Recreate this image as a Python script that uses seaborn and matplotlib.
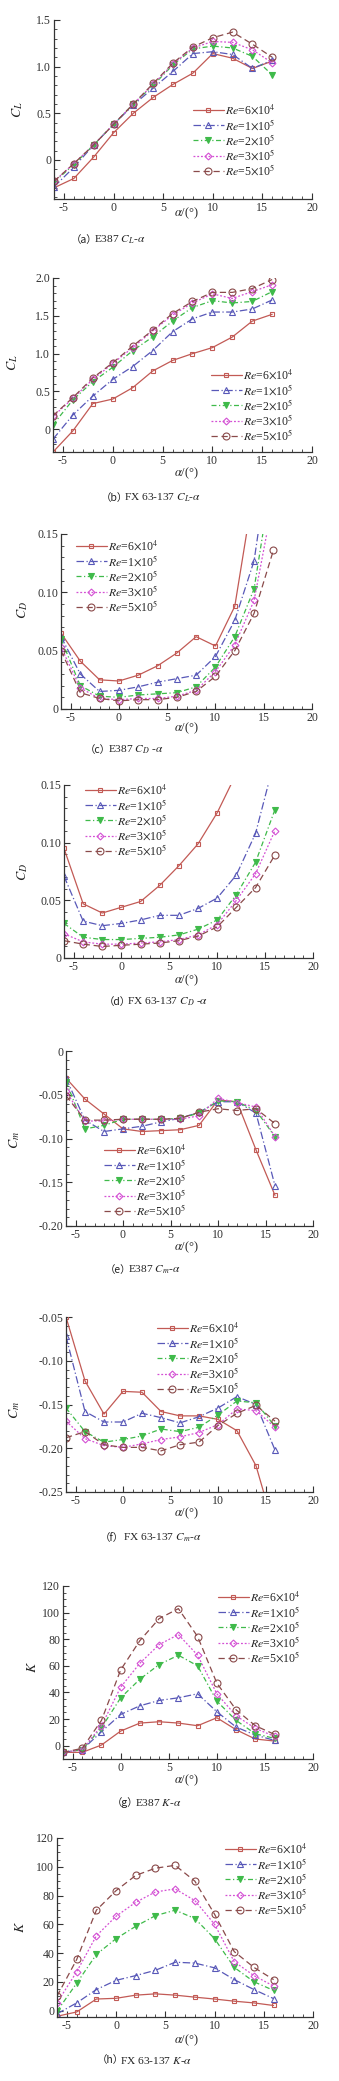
import pandas as pd
import seaborn as sns
import matplotlib.pyplot as plt
from matplotlib.ticker import MultipleLocator, AutoMinorLocator, FuncFormatter

sns.set_style('ticks')
plt.rcParams['font.family'] = ['Liberation Serif', 'Noto Sans CJK SC']
plt.rcParams['mathtext.fontset'] = 'stix'
plt.rcParams['axes.unicode_minus'] = False

W, H = 339, 2081

alpha = [-6, -4, -2, 0, 2, 4, 6, 8, 10, 12, 14, 16]
re_labels = [r'$Re$=6$\times$10$^4$', r'$Re$=1$\times$10$^5$', r'$Re$=2$\times$10$^5$',
             r'$Re$=3$\times$10$^5$', r'$Re$=5$\times$10$^5$']
colors = ['#c25a55', '#5858b8', '#3fba4a', '#d44fd4', '#8a4a4a']
linestyles = ['-', (0, (6, 2, 1, 2)), (0, (4, 2, 1, 2)), (0, (1.5, 1.5)), (0, (5, 3))]
markers = ['s', '^', 'v', 'D', 'o']
marker_sizes = [3.5, 4, 4, 3.5, 5]
filled = [False, False, True, False, False]

# values, one list per Re (6e4, 1e5, 2e5, 3e5, 5e5)
cl_e387 = [
    [-0.30, -0.20, 0.03, 0.29, 0.50, 0.67, 0.81, 0.93, 1.14, 1.09, 0.98, 1.06],
    [-0.29, -0.08, 0.16, 0.38, 0.59, 0.77, 0.95, 1.14, 1.16, 1.13, 0.98, 1.07],
    [-0.24, -0.05, 0.16, 0.38, 0.60, 0.80, 1.02, 1.19, 1.22, 1.20, 1.11, 0.91],
    [-0.23, -0.04, 0.16, 0.38, 0.60, 0.81, 1.03, 1.20, 1.27, 1.26, 1.18, 1.04],
    [-0.23, -0.04, 0.16, 0.38, 0.60, 0.82, 1.04, 1.21, 1.31, 1.37, 1.24, 1.10],
]
cl_fx = [
    [-0.30, -0.02, 0.34, 0.40, 0.55, 0.77, 0.91, 1.00, 1.08, 1.22, 1.43, 1.52],
    [-0.13, 0.19, 0.44, 0.66, 0.83, 1.04, 1.29, 1.46, 1.55, 1.55, 1.59, 1.71],
    [0.06, 0.39, 0.63, 0.82, 1.04, 1.22, 1.43, 1.61, 1.70, 1.67, 1.69, 1.82],
    [0.17, 0.41, 0.66, 0.87, 1.08, 1.30, 1.51, 1.67, 1.79, 1.73, 1.82, 1.91],
    [0.18, 0.42, 0.68, 0.88, 1.10, 1.31, 1.53, 1.69, 1.81, 1.81, 1.86, 1.98],
]
cd_e387 = [
    [0.065, 0.041, 0.025, 0.024, 0.029, 0.037, 0.048, 0.062, 0.054, 0.088, 0.190, 0.300],
    [0.062, 0.030, 0.015, 0.016, 0.019, 0.023, 0.026, 0.029, 0.045, 0.076, 0.127, 0.240],
    [0.060, 0.020, 0.011, 0.010, 0.012, 0.013, 0.014, 0.019, 0.036, 0.062, 0.103, 0.207],
    [0.053, 0.018, 0.009, 0.008, 0.009, 0.009, 0.011, 0.016, 0.032, 0.055, 0.093, 0.180],
    [0.050, 0.014, 0.009, 0.007, 0.008, 0.008, 0.010, 0.015, 0.028, 0.050, 0.082, 0.136],
]
cd_fx = [
    [0.095, 0.047, 0.039, 0.044, 0.049, 0.063, 0.080, 0.099, 0.126, 0.160, 0.220, 0.300],
    [0.071, 0.032, 0.028, 0.030, 0.033, 0.037, 0.037, 0.043, 0.052, 0.072, 0.108, 0.172],
    [0.030, 0.018, 0.016, 0.016, 0.017, 0.018, 0.020, 0.025, 0.033, 0.055, 0.083, 0.128],
    [0.021, 0.014, 0.012, 0.012, 0.013, 0.014, 0.016, 0.020, 0.029, 0.050, 0.073, 0.110],
    [0.015, 0.012, 0.010, 0.011, 0.012, 0.013, 0.015, 0.019, 0.027, 0.044, 0.061, 0.089],
]
cm_e387 = [
    [-0.031, -0.055, -0.072, -0.089, -0.092, -0.091, -0.090, -0.085, -0.056, -0.058, -0.113, -0.165],
    [-0.031, -0.079, -0.092, -0.089, -0.086, -0.081, -0.077, -0.070, -0.058, -0.058, -0.071, -0.154],
    [-0.035, -0.089, -0.085, -0.078, -0.078, -0.078, -0.077, -0.071, -0.057, -0.058, -0.068, -0.098],
    [-0.046, -0.080, -0.080, -0.078, -0.078, -0.078, -0.078, -0.074, -0.054, -0.059, -0.064, -0.098],
    [-0.051, -0.079, -0.079, -0.078, -0.078, -0.078, -0.077, -0.070, -0.066, -0.068, -0.066, -0.083],
]
cm_fx = [
    [-0.050, -0.123, -0.161, -0.135, -0.136, -0.158, -0.163, -0.163, -0.167, -0.180, -0.220, -0.295],
    [-0.072, -0.158, -0.170, -0.170, -0.160, -0.165, -0.171, -0.164, -0.154, -0.141, -0.150, -0.202],
    [-0.154, -0.181, -0.193, -0.190, -0.186, -0.178, -0.181, -0.176, -0.162, -0.146, -0.148, -0.175],
    [-0.169, -0.189, -0.197, -0.199, -0.195, -0.190, -0.187, -0.182, -0.173, -0.155, -0.157, -0.176],
    [-0.188, -0.181, -0.196, -0.199, -0.199, -0.203, -0.196, -0.193, -0.174, -0.160, -0.151, -0.169],
]
k_e387 = [
    [-5, -5, 0.5, 11, 17, 18, 17, 15, 21, 12, 5, 3.5],
    [-5, -3, 10.5, 23.5, 30, 34, 36, 39, 25.5, 14, 8, 4],
    [-5, -3, 13.5, 36, 50, 61, 68, 60, 33.5, 19, 9, 5.5],
    [-5, -3, 15, 44, 62, 76, 83.5, 68, 39, 22.5, 13, 7],
    [-5, -2, 19, 57, 79, 95.5, 103, 82, 47, 27, 15, 8.5],
]
k_fx = [
    [-4, -1, 8, 8.5, 10.7, 11.6, 10.7, 9.3, 8, 6.5, 5.3, 3.5],
    [-2.3, 5.3, 14.6, 21, 24.3, 28, 33.6, 33, 29.7, 21.5, 14.6, 8.3],
    [-0.5, 19, 39, 50, 58.6, 66, 69.8, 64, 50, 30, 20, 14],
    [5.3, 27, 52, 65.6, 75.3, 82.5, 84.6, 76.5, 60, 34, 24.3, 17],
    [10, 35.5, 69.8, 83.4, 94, 99, 101, 90, 67, 41, 30, 21.5],
]

# panel layout in figure pixels: axes box, y range, label/legend/caption spots
panels = [
    dict(data=cl_e387, box=(54, 20, 312, 199), ylim=(-0.42, 1.5), ystep=0.5, dec=1, ylab='$C_L$',
         ylab_xy=(18, 110), xlab_y=213, leg=(193, 103), cap=(74, 240, '（a）', r'E387 $C_L$-$\alpha$')),
    dict(data=cl_fx, box=(53, 278, 312, 452), ylim=(-0.3, 2.0), ystep=0.5, dec=1, ylab='$C_L$',
         ylab_xy=(13, 363), xlab_y=473, leg=(211, 368), cap=(104, 498, '（b）', r'FX 63-137 $C_L$-$\alpha$')),
    dict(data=cd_e387, box=(61, 534, 312, 709), ylim=(0, 0.15), ystep=0.05, dec=2, ylab='$C_D$',
         ylab_xy=(23, 610), xlab_y=728, leg=(76, 539), cap=(88, 750, '（c）', r'E387 $C_D$ -$\alpha$')),
    dict(data=cd_fx, box=(64, 785, 313, 958), ylim=(0, 0.15), ystep=0.05, dec=2, ylab='$C_D$',
         ylab_xy=(23, 872), xlab_y=980, leg=(85, 783), cap=(107, 1002, '（d）', r'FX 63-137 $C_D$ -$\alpha$')),
    dict(data=cm_e387, box=(66, 1051, 313, 1226), ylim=(-0.2, 0), ystep=0.05, dec=2, ylab='$C_m$',
         ylab_xy=(15, 1140), xlab_y=1247, leg=(104, 1143), cap=(108, 1270, '（e）', r'E387 $C_m$-$\alpha$')),
    dict(data=cm_fx, box=(66, 1317, 313, 1492), ylim=(-0.25, -0.05), ystep=0.05, dec=2, ylab='$C_m$',
         ylab_xy=(15, 1410), xlab_y=1513, leg=(157, 1321), cap=(103, 1538, '（f）', r'FX 63-137 $C_m$-$\alpha$')),
    dict(data=k_e387, box=(63, 1586, 313, 1759), ylim=(-10, 120), ystep=20, dec=0, ylab='$K$',
         ylab_xy=(32, 1667), xlab_y=1780, leg=(218, 1590), cap=(115, 1803, '（g）', r'E387 $K$-$\alpha$')),
    dict(data=k_fx, box=(57, 1838, 313, 2017), ylim=(-4.5, 120), ystep=20, dec=0, ylab='$K$',
         ylab_xy=(20, 1927), xlab_y=2040, leg=(225, 1842), cap=(100, 2060, '（h）', r'FX 63-137 $K$-$\alpha$')),
]

fig = plt.figure(figsize=(W / 100, H / 100), dpi=100)
fig.patch.set_facecolor('white')


def fx(x):
    return x / W


def fy(y):
    return 1 - y / H


for p in panels:
    l, t, r, b = p['box']
    ax = fig.add_axes([fx(l), fy(b), (r - l) / W, (b - t) / H])
    for i, vals in enumerate(p['data']):
        df = pd.DataFrame({'alpha': alpha, 'val': vals})
        sns.lineplot(data=df, x='alpha', y='val', ax=ax, color=colors[i], linestyle=linestyles[i],
                     linewidth=0.9, marker=markers[i], markersize=marker_sizes[i],
                     mfc=colors[i] if filled[i] else 'none', mec=colors[i], mew=0.8,
                     label=re_labels[i])
    ax.set_xlim(-6, 20)
    ax.set_ylim(*p['ylim'])
    ax.xaxis.set_major_locator(MultipleLocator(5))
    ax.xaxis.set_minor_locator(MultipleLocator(1))
    ax.yaxis.set_major_locator(MultipleLocator(p['ystep']))
    ax.yaxis.set_minor_locator(AutoMinorLocator(5 if p['dec'] else 4))
    dec = p['dec']
    ax.yaxis.set_major_formatter(FuncFormatter(lambda v, pos, d=dec: '0' if abs(v) < 1e-9 else f'{v:.{d}f}'))
    ax.xaxis.set_major_formatter(FuncFormatter(lambda v, pos: f'{v:.0f}'))
    ax.tick_params(which='both', direction='in', colors='#333333', labelsize=8.6, pad=2)
    ax.tick_params(which='major', length=4, width=0.8)
    ax.tick_params(which='minor', length=2, width=0.6)
    sns.despine(ax=ax)
    for s in ('left', 'bottom'):
        ax.spines[s].set_linewidth(0.9)
        ax.spines[s].set_color('#333333')

    ax.set_ylabel(p['ylab'], fontsize=10, color='#222222')
    ax.yaxis.set_label_coords(fx(p['ylab_xy'][0]), fy(p['ylab_xy'][1]), transform=fig.transFigure)
    ax.yaxis.label.set_va('center')
    ax.set_xlabel(r'$\alpha$/(°)', fontsize=9, color='#222222')
    ax.xaxis.set_label_coords(fx(187), fy(p['xlab_y']), transform=fig.transFigure)
    ax.xaxis.label.set_va('center')

    ax.legend(loc='upper left', bbox_to_anchor=(fx(p['leg'][0]), fy(p['leg'][1])),
              bbox_transform=fig.transFigure, frameon=False, fontsize=8.5, borderpad=0,
              borderaxespad=0, handlelength=2.6, handletextpad=0.1, labelspacing=0.05)

    cx, cy, tag, txt = p['cap']
    fig.text(fx(cx - 3), fy(cy), tag, fontsize=7.5, ha='left', va='center', color='#222222',
             family=['Noto Sans CJK SC'])
    fig.text(fx(cx + 20), fy(cy), txt, fontsize=8.2, ha='left', va='center', color='#222222')

fig.savefig('out.png', dpi=100, facecolor='white')
